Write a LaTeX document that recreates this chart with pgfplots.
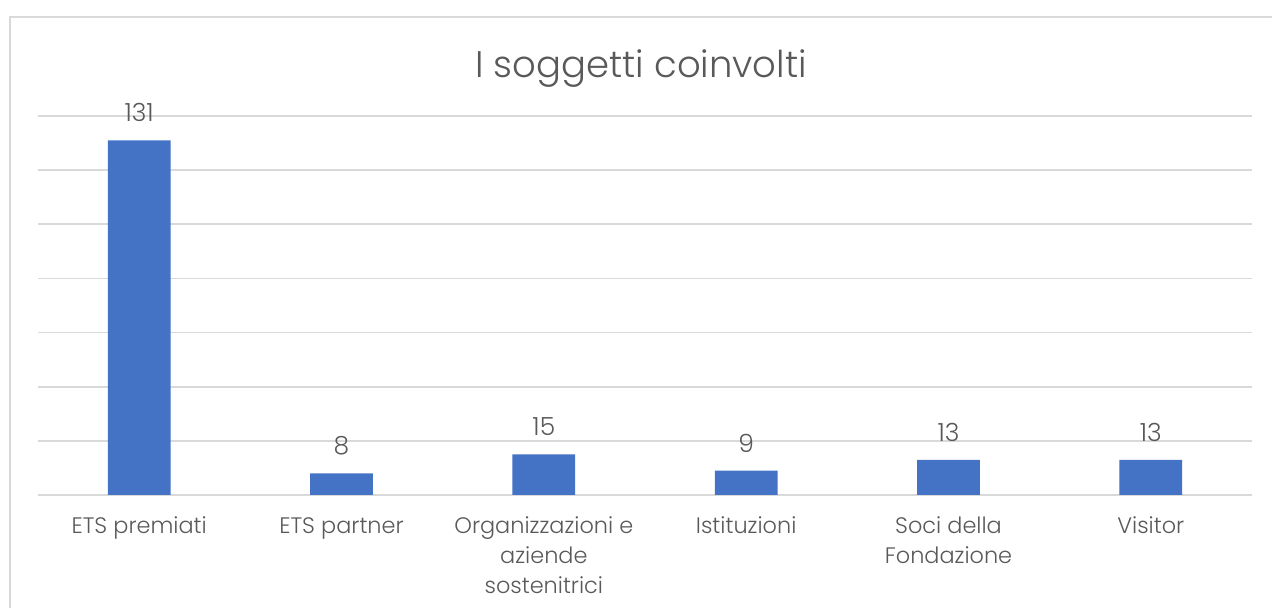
\documentclass[border=0pt]{standalone}
\usepackage{pgfplots}
\pgfplotsset{compat=1.18}
\usepackage{fontspec}
\setmainfont{Poppins}[UprightFont=* Light]
\definecolor{barblue}{HTML}{4472C4}
\definecolor{gridgray}{HTML}{D9D9D9}
\definecolor{txt}{HTML}{595959}
\begin{document}
\begin{tikzpicture}
% page = 1272x608 px at 0.5pt per px
\path[use as bounding box] (0,0) rectangle (636pt,304pt);
\draw[gridgray, line width=0.9pt] (5pt,0) -- (5pt,295.5pt) -- (636pt,295.5pt);
\node[txt, font=\fontsize{18.5}{20}\selectfont, anchor=base, inner sep=0] at (320.5pt,265pt) {I soggetti coinvolti};
\begin{axis}[
    at={(19pt,56.5pt)}, anchor=south west,
    scale only axis, width=607pt, height=189.5pt,
    xmin=-0.5, xmax=5.5, ymin=0, ymax=140,
    ytick={0,20,...,140}, yticklabels={},
    ymajorgrids, grid style={gridgray, line width=0.8pt},
    axis line style={draw=none}, major tick length=0pt,
    xtick=data,
    xticklabels={\strut ETS premiati, \strut ETS partner, {\strut Organizzazioni e\\aziende\\sostenitrici}, \strut Istituzioni, {\strut Soci della\\Fondazione}, \strut Visitor},
    xticklabel style={txt, font=\fontsize{11.2}{15}\selectfont, align=center, anchor=north, inner sep=0pt, yshift=-8.5pt},
    ybar, bar width=0.31,
    nodes near coords,
    /pgf/number format/assume math mode=true,
    every node near coord/.append style={txt, font=\fontsize{12.5}{14}\selectfont, anchor=south, inner sep=0pt, yshift=9pt},
    clip=false,
  ]
  \addplot[fill=barblue, draw=none] coordinates {(0,131) (1,8) (2,15) (3,9) (4,13) (5,13)};
\end{axis}
\end{tikzpicture}
\end{document}
